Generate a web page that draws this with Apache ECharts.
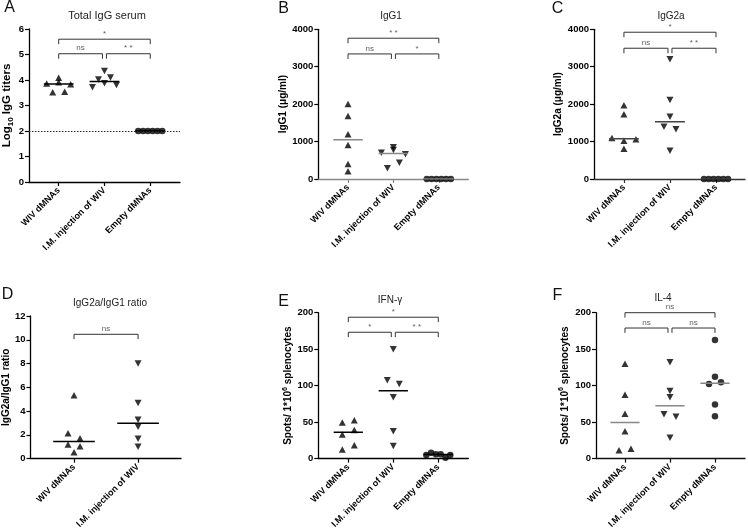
<!DOCTYPE html>
<html><head><meta charset="utf-8">
<script src="https://cdn.jsdelivr.net/npm/echarts@6/dist/echarts.min.js"></script>
<style>html,body{margin:0;padding:0;background:#fff}#c{width:748px;height:531px}</style>
</head><body><div id="c"></div>
<script>
// ---------- data ----------
const groups3 = ['WIV dMNAs', 'I.M. injection of WIV', 'Empty dMNAs'];
const groups2 = ['WIV dMNAs', 'I.M. injection of WIV'];

// A: Total IgG serum (log10 titers)
const totalIgGWIV = [3.86, 3.91, 3.83, 4.09, 3.52, 3.54];
const totalIgGIM = [3.72, 3.87, 3.80, 4.02, 4.35, 4.10];
const totalIgGEmpty = [2, 2, 2, 2, 2, 2];
const detectionLimitA = 2;
// B: IgG1 (ug/ml)
const igG1WIV = [2005, 1684, 1195, 909, 401, 206];
const igG1IM = [703, 775, 660, 848, 286, 436];
const igG1Empty = [0, 0, 0, 0, 0, 0];
// C: IgG2a (ug/ml)
const igG2aWIV = [1096, 1024, 1061, 810, 1730, 1971];
const igG2aIM = [3200, 2112, 1666, 1398, 1329, 757];
const igG2aEmpty = [0, 0, 0, 0, 0, 0];
// D: IgG2a/IgG1 ratio
const ratioWIV = [5.34, 2.14, 1.71, 1.18, 1.04, 0.54];
const ratioIM = [8.0, 4.67, 3.26, 2.67, 1.66, 0.99];
// E: IFN-gamma spots
const ifnWIV = [49.6, 52.7, 33.1, 39.3, 12.5, 18.3];
const ifnIM = [150, 107.5, 102.2, 84, 37.5, 17.4];
const ifnEmpty = [5, 8, 6, 6, 1, 5];
// F: IL-4 spots
const il4WIV = [129.9, 87.5, 61.6, 37.5, 11.6, 13.4];
const il4IM = [132.2, 92.8, 84, 60.7, 57.2, 28.5];
const il4Empty = [162.5, 112.1, 102.2, 104.5, 74.1, 58];

// significance comparisons (group indices, bracket level in data units, label)
const sigA = [{from:0,to:2,level:5.6,text:'*'},{from:0,to:1,level:5.03,text:'ns'},{from:1,to:2,level:5.03,text:'* *'}];
const sigB = [{from:0,to:2,level:3762,text:'* *'},{from:0,to:1,level:3342,text:'ns'},{from:1,to:2,level:3342,text:'*'}];
const sigC = [{from:0,to:2,level:3922,text:'*'},{from:0,to:1,level:3494,text:'ns'},{from:1,to:2,level:3494,text:'* *'}];
const sigD = [{from:0,to:1,level:10.46,text:'ns'}];
const sigE = [{from:0,to:2,level:193.8,text:'*'},{from:0,to:1,level:173.2,text:'*'},{from:1,to:2,level:173.2,text:'* *'}];
const sigF = [{from:0,to:2,level:200,text:'ns'},{from:0,to:1,level:179,text:'ns'},{from:1,to:2,level:179,text:'ns'}];

// ---------- layout ----------
const FONT = '"Liberation Sans", Arial, Helvetica, sans-serif';
const panels = [
  {letter:'A', letterPos:[9.5,8], title:'Total IgG serum', titlePos:[107,16], titleSize:11,
   yName:'{b|Log}{s|10}{b| IgG titers}', nameSize:11.5, nameGap:9.5, groups:groups3, data:[totalIgGWIV,totalIgGIM,totalIgGEmpty],
   yMin:0, yMax:6, yInt:1, sig:sigA, grid:[27.7,29,152.3,153], xMin:0.35, xMax:3.65, xColor:'#000', medColor:'#000', limit:detectionLimitA},
  {letter:'B', letterPos:[283.5,8.5], title:'IgG1', titlePos:[391,16], titleSize:10,
   yName:'{b|IgG1 (μg/ml)}', nameSize:10, nameGap:28, groups:groups3, data:[igG1WIV,igG1IM,igG1Empty],
   yMin:0, yMax:4000, yInt:1000, sig:sigB, grid:[318.3,29.3,150,149.7], xMin:0.345, xMax:3.65, xColor:'#888', medColor:'#888'},
  {letter:'C', letterPos:[557.5,8.5], title:'IgG2a', titlePos:[671,16], titleSize:10,
   yName:'{b|IgG2a (μg/ml)}', nameSize:10, nameGap:28.5, groups:groups3, data:[igG2aWIV,igG2aIM,igG2aEmpty],
   yMin:0, yMax:4000, yInt:1000, sig:sigC, grid:[594,29.3,151,149.7], xMin:0.35, xMax:3.63, xColor:'#333', medColor:'#444'},
  {letter:'D', letterPos:[7.5,295], title:'IgG2a/IgG1 ratio', titlePos:[110,303.5], titleSize:10,
   yName:'{b|IgG2a/IgG1 ratio}', nameSize:10, nameGap:13.5, groups:groups2, data:[ratioWIV,ratioIM],
   yMin:0, yMax:12, yInt:2, sig:sigD, grid:[29,316,152,149.7], xMin:0.32, xMax:2.67, xColor:'#000', medColor:'#000'},
  {letter:'E', letterPos:[283.5,301.5], title:'IFN-γ', titlePos:[390,300.5], titleSize:10,
   yName:'{b|Spots/ 1*10}{p|6}{b| splenocytes}', nameSize:10, nameGap:23, groups:groups3, data:[ifnWIV,ifnIM,ifnEmpty],
   yMin:0, yMax:200, yInt:50, sig:sigE, grid:[318.3,312.7,150,149.3], xMin:0.333, xMax:3.667, xColor:'#000', medColor:'#000'},
  {letter:'F', letterPos:[557.5,296], title:'IL-4', titlePos:[663,298.5], titleSize:10,
   yName:'{b|Spots/ 1*10}{p|6}{b| splenocytes}', nameSize:10, nameGap:24, groups:groups3, data:[il4WIV,il4IM,il4Empty],
   yMin:0, yMax:200, yInt:50, sig:sigF, grid:[596,312.7,149,149.3], xMin:0.356, xMax:3.667, xColor:'#111', medColor:'#888'}
];
const SYMBOLS = [{symbol:'triangle', rotate:0, size:[7,6.5]}, {symbol:'triangle', rotate:180, size:[7,6.5]}, {symbol:'circle', rotate:0, size:6.5}];
const ROW_PX = 6, MAX_STEP = 12, MAX_SPREAD = 24, MEDIAN_HALF = 0.325, DROP_PX = 5, GAP_PX = 2;

function median(vals){const s=[...vals].sort((a,b)=>a-b);const n=s.length;return n%2?s[(n-1)/2]:(s[n/2-1]+s[n/2])/2;}
// GraphPad-like horizontal spreading of points that overlap vertically
function spread(vals, pxPerUnit){
  const idx = vals.map((v,i)=>i).sort((a,b)=>vals[a]-vals[b]||a-b);
  const rows=[]; let cur=null;
  idx.forEach(i=>{ if(cur && (vals[i]-vals[cur[0]])*pxPerUnit < ROW_PX) cur.push(i); else {cur=[i]; rows.push(cur);} });
  const off = vals.map(()=>0);
  rows.forEach(r=>{ r.sort((a,b)=>a-b); const n=r.length; if(n<2) return; const s=Math.min(MAX_STEP, MAX_SPREAD/(n-1)); r.forEach((i,k)=>off[i]=(k-(n-1)/2)*s); });
  return off;
}

const option = {animation:false, backgroundColor:'#fff', grid:[], xAxis:[], yAxis:[], series:[], graphic:[]};

panels.forEach((p,i)=>{
  const [gl,gt,gw,gh] = p.grid;
  const pyu = gh/(p.yMax-p.yMin);       // px per y unit
  const pxu = gw/(p.xMax-p.xMin);       // px per x unit
  const cats = p.groups.map((g,k)=>k+1);
  const richBase = {fontSize:p.nameSize, fontWeight:'bold', fontFamily:FONT, color:'#000'};
  option.grid.push({left:gl, top:gt, width:gw, height:gh});
  option.xAxis.push({gridIndex:i, type:'value', min:p.xMin, max:p.xMax,
    axisLine:{show:true, onZero:false, lineStyle:{color:p.xColor, width:1.3}},
    axisTick:{show:true, customValues:cats, length:4, lineStyle:{color:p.xColor, width:1.2}},
    axisLabel:{show:true, customValues:cats, rotate:45, margin:7, fontSize:9, fontWeight:'bold', color:'#000', fontFamily:FONT,
      formatter:v=>p.groups[Math.round(v)-1]||''},
    splitLine:{show:false}});
  option.yAxis.push({gridIndex:i, type:'value', min:p.yMin, max:p.yMax, interval:p.yInt,
    axisLine:{show:true, onZero:false, lineStyle:{color:'#000', width:1.3}},
    axisTick:{show:true, length:4, lineStyle:{color:'#000', width:1.2}},
    axisLabel:{fontSize:9.5, fontWeight:'bold', color:'#000', margin:5, fontFamily:FONT, formatter:v=>String(v)},
    splitLine:{show:false},
    name:p.yName, nameLocation:'middle', nameRotate:90, nameGap:p.nameGap,
    nameTextStyle:{...richBase, rich:{
      b:{...richBase, lineHeight:p.nameSize+4},
      s:{...richBase, fontSize:p.nameSize*0.7, verticalAlign:'bottom', lineHeight:p.nameSize*0.7},
      p:{...richBase, fontSize:p.nameSize*0.7, verticalAlign:'top', lineHeight:p.nameSize*0.7}}}});

  p.data.forEach((vals,k)=>{
    const off = spread(vals, pyu);
    const sym = SYMBOLS[k];
    const ser = {type:'scatter', xAxisIndex:i, yAxisIndex:i, symbol:sym.symbol, symbolRotate:sym.rotate, symbolSize:sym.size,
      itemStyle:{color:'#000'}, z:3, silent:true, clip:false,
      data: vals.map((v,j)=>({value:[k+1, v], symbolOffset:[off[j],0]}))};
    if (k===2 && p.limit!==undefined) {
      ser.markLine = {silent:true, symbol:['none','none'], label:{show:false}, data:[{yAxis:p.limit}],
        lineStyle:{type:[1.5,1.5], color:'#222', width:1}};
    }
    option.series.push(ser);
    const m = median(vals);
    option.series.push({type:'line', xAxisIndex:i, yAxisIndex:i, symbol:'none', silent:true, z:4,
      lineStyle:{color:p.medColor, width:1.5}, data:[[k+1-MEDIAN_HALF, m],[k+1+MEDIAN_HALF, m]]});
  });

  const nG = p.groups.length;
  const labels = [];
  p.sig.forEach(s=>{
    let x1 = s.from+1, x2 = s.to+1;
    const adjacent = (s.to - s.from === 1) && nG > 2;
    if (adjacent) { if (s.from===1) x1 += GAP_PX/pxu; else x2 -= GAP_PX/pxu; }
    const drop = DROP_PX/pyu;
    option.series.push({type:'line', xAxisIndex:i, yAxisIndex:i, symbol:'none', silent:true, clip:false, z:2,
      lineStyle:{color:'#333', width:1},
      data:[[x1, s.level-drop],[x1, s.level],[x2, s.level],[x2, s.level-drop]]});
    labels.push({name:s.text, value:[(x1+x2)/2, s.level]});
  });
  option.series.push({type:'scatter', xAxisIndex:i, yAxisIndex:i, symbolSize:1, silent:true, clip:false,
    itemStyle:{color:'rgba(0,0,0,0)'},
    label:{show:true, position:'top', distance:1, formatter:'{b}', fontSize:8, color:'#333', fontFamily:FONT},
    data:labels});

  option.graphic.push({type:'text', x:p.titlePos[0], y:p.titlePos[1],
    style:{text:p.title, fontSize:p.titleSize, fontFamily:FONT, fill:'#222', align:'center', verticalAlign:'middle'}});
  option.graphic.push({type:'text', x:p.letterPos[0], y:p.letterPos[1],
    style:{text:p.letter, fontSize:16, fontFamily:FONT, fill:'#111', align:'center', verticalAlign:'middle'}});
});

const chart = echarts.init(document.getElementById('c'), null, {renderer:'canvas'});
chart.setOption(option);
</script>
</body></html>
